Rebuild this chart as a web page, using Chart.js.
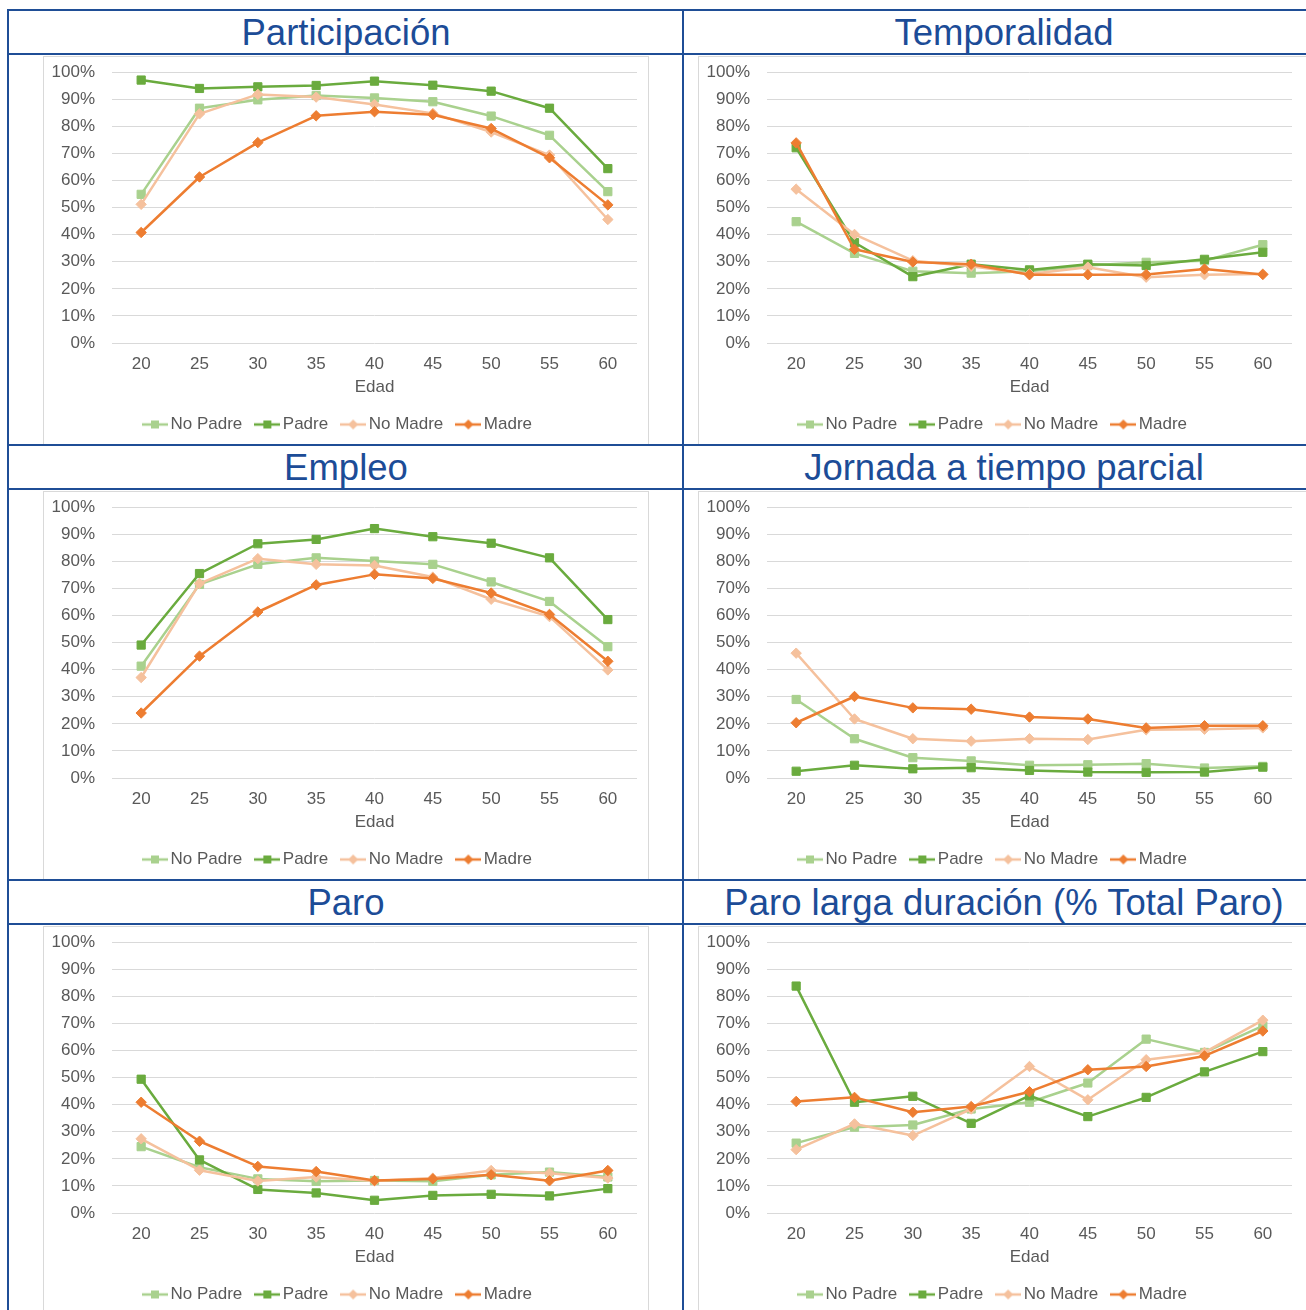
<!DOCTYPE html>
<html>
<head>
<meta charset="utf-8">
<script src="https://cdn.jsdelivr.net/npm/chart.js@4/dist/chart.umd.min.js"></script>
<style>
  html, body { margin: 0; padding: 0; background: #ffffff; }
  body { width: 1306px; height: 1310px; position: relative; overflow: hidden; font-family: "Liberation Sans", Arial, sans-serif; }
  .hline { position: absolute; left: 7px; width: 1310px; height: 2px; background: #1f4e96; }
  .vline { position: absolute; top: 9px; width: 2px; height: 1310px; background: #1f4e96; }
  .title { position: absolute; height: 43px; line-height: 43px; text-align: center; color: #1c4c97; font-size: 36.5px; white-space: nowrap; }
  .box { position: absolute; border: 1px solid #d9d9d9; box-sizing: border-box; background: #fff; }
  canvas { position: absolute; }
</style>
</head>
<body>
<script>
// ---------- DATA ----------
const edades = ['20', '25', '30', '35', '40', '45', '50', '55', '60'];
const serieNombres = ['No Padre', 'Padre', 'No Madre', 'Madre'];
const yTicks = [0, 10, 20, 30, 40, 50, 60, 70, 80, 90, 100];

const titulos = ['Participación', 'Temporalidad', 'Empleo', 'Jornada a tiempo parcial', 'Paro', 'Paro larga duración (% Total Paro)'];

// Participación
const partNoPadre  = [54.9, 86.7, 89.8, 91.4, 90.5, 89.1, 83.8, 76.7, 55.9];
const partPadre    = [97.1, 94.0, 94.6, 95.1, 96.7, 95.2, 93.0, 86.7, 64.4];
const partNoMadre  = [51.2, 84.6, 91.8, 90.8, 88.1, 84.8, 77.9, 69.4, 45.6];
const partMadre    = [40.8, 61.3, 74.0, 83.9, 85.4, 84.3, 79.2, 68.4, 51.0];

// Temporalidad
const tempNoPadre  = [44.8, 33.1, 26.5, 25.8, 26.5, 28.6, 29.8, 30.4, 36.3];
const tempPadre    = [72.1, 37.1, 24.5, 29.1, 27.0, 29.1, 28.6, 30.9, 33.5];
const tempNoMadre  = [56.8, 40.1, 30.4, 28.3, 25.5, 28.0, 24.3, 25.2, 25.5];
const tempMadre    = [73.9, 34.6, 29.9, 29.1, 25.2, 25.2, 25.3, 27.3, 25.3];

// Empleo
const empNoPadre   = [41.3, 71.5, 78.9, 81.3, 80.1, 78.9, 72.4, 65.2, 48.5];
const empPadre     = [49.1, 75.5, 86.5, 88.1, 92.1, 89.1, 86.7, 81.3, 58.5];
const empNoMadre   = [37.1, 71.8, 81.0, 78.9, 78.5, 74.2, 66.0, 59.6, 39.9];
const empMadre     = [24.0, 45.0, 61.3, 71.3, 75.2, 73.7, 68.3, 60.4, 43.1];

// Jornada a tiempo parcial
const parcNoPadre  = [29.0, 14.5, 7.5, 6.3, 4.7, 4.9, 5.3, 3.7, 4.3];
const parcPadre    = [2.5, 4.7, 3.4, 3.8, 2.8, 2.2, 2.1, 2.2, 4.0];
const parcNoMadre  = [46.1, 21.8, 14.5, 13.6, 14.5, 14.2, 17.8, 18.0, 18.5];
const parcMadre    = [20.4, 30.1, 25.9, 25.4, 22.5, 21.8, 18.5, 19.3, 19.3];

// Paro
const paroNoPadre  = [24.5, 16.9, 12.6, 11.7, 12.0, 11.7, 14.1, 15.1, 13.3];
const paroPadre    = [49.4, 19.6, 8.7, 7.4, 4.7, 6.5, 6.9, 6.3, 9.0];
const paroNoMadre  = [27.4, 15.8, 11.8, 13.3, 11.8, 12.9, 15.7, 14.7, 12.9];
const paroMadre    = [40.9, 26.5, 17.2, 15.3, 12.0, 12.6, 14.1, 11.9, 15.7];

// Paro larga duración
const pldNoPadre   = [25.8, 31.7, 32.5, 38.4, 40.9, 48.0, 64.2, 59.3, 69.1];
const pldPadre     = [83.8, 40.9, 43.1, 33.1, 43.3, 35.6, 42.7, 52.1, 59.6];
const pldNoMadre   = [23.4, 32.9, 28.6, 38.4, 54.1, 41.8, 56.6, 59.3, 71.2];
const pldMadre     = [41.2, 42.7, 37.2, 39.3, 44.8, 52.9, 54.1, 58.0, 67.2];

const paneles = [
  [partNoPadre, partPadre, partNoMadre, partMadre],
  [tempNoPadre, tempPadre, tempNoMadre, tempMadre],
  [empNoPadre, empPadre, empNoMadre, empMadre],
  [parcNoPadre, parcPadre, parcNoMadre, parcMadre],
  [paroNoPadre, paroPadre, paroNoMadre, paroMadre],
  [pldNoPadre, pldPadre, pldNoMadre, pldMadre]
];

// ---------- STYLE ----------
const colores = ['#a9d18e', '#6aab3e', '#f5c19d', '#ed7d31'];
const estilos = ['rect', 'rect', 'rectRot', 'rectRot'];
const radios  = [5.8, 5.8, 5.2, 5.2];
const FONT = '"Liberation Sans", Arial, sans-serif';
const GRIS = '#595959';

function legendIcon(color, style) {
  const c = document.createElement('canvas');
  c.width = 26; c.height = 12;
  const g = c.getContext('2d');
  g.strokeStyle = color; g.lineWidth = 2.5;
  g.beginPath(); g.moveTo(0, 6); g.lineTo(26, 6); g.stroke();
  g.fillStyle = color;
  if (style === 'rect') {
    g.fillRect(9, 2, 8, 8);
  } else {
    g.beginPath(); g.moveTo(13, 1); g.lineTo(18, 6); g.lineTo(13, 11); g.lineTo(8, 6); g.closePath(); g.fill();
  }
  return c;
}
const iconos = colores.map((c, i) => legendIcon(c, estilos[i]));

// ---------- LAYOUT ----------
const body = document.body;
function add(cls, css, text) {
  const d = document.createElement('div');
  d.className = cls;
  Object.assign(d.style, css);
  if (text) d.textContent = text;
  body.appendChild(d);
  return d;
}

const colX = [8, 684];
const colW = [676, 640];
const boxX = [43, 698];
const boxW = [606, 640];
const rowY = [10, 445, 880];

// chart boxes
for (let r = 0; r < 3; r++) {
  for (let c = 0; c < 2; c++) {
    add('box', { left: boxX[c] + 'px', top: (rowY[r] + 46) + 'px', width: boxW[c] + 'px', height: (r < 2 ? 389 : 420) + 'px' });
  }
}
// table lines
rowY.forEach(y => { add('hline', { top: (y - 1) + 'px' }); add('hline', { top: (y + 43) + 'px' }); });
add('vline', { left: '7px' });
add('vline', { left: '682px' });

// titles
for (let r = 0; r < 3; r++) {
  for (let c = 0; c < 2; c++) {
    add('title', { left: colX[c] + 'px', top: (rowY[r] + 1) + 'px', width: colW[c] + 'px' }, titulos[r * 2 + c]);
  }
}

// charts
for (let r = 0; r < 3; r++) {
  for (let c = 0; c < 2; c++) {
    const idx = r * 2 + c;
    const cv = document.createElement('canvas');
    cv.width = 605; cv.height = 398;
    cv.style.left = boxX[c] + 'px';
    cv.style.top = (rowY[r] + 35) + 'px';
    body.appendChild(cv);
    const datos = paneles[idx];
    new Chart(cv.getContext('2d'), {
      type: 'line',
      data: {
        labels: edades,
        datasets: serieNombres.map((n, i) => ({
          label: n,
          data: datos[i],
          borderColor: colores[i],
          backgroundColor: colores[i],
          borderWidth: 2.5,
          borderJoinStyle: 'round',
          pointStyle: estilos[i],
          pointRadius: radios[i],
          pointBorderWidth: 1,
          pointBackgroundColor: colores[i],
          pointBorderColor: colores[i],
          tension: 0,
          fill: false,
          order: 3 - i
        }))
      },
      options: {
        responsive: false,
        animation: false,
        layout: { padding: { top: 5, right: 11, left: 0, bottom: 0 } },
        plugins: {
          tooltip: { enabled: false },
          legend: {
            position: 'bottom',
            labels: {
              usePointStyle: true,
              pointStyleWidth: 14,
              padding: 18,
              color: GRIS,
              font: { family: FONT, size: 17 },
              sort: (a, b) => a.datasetIndex - b.datasetIndex,
              generateLabels: (chart) => {
                const items = Chart.defaults.plugins.legend.labels.generateLabels(chart);
                items.forEach(it => { it.pointStyle = iconos[it.datasetIndex]; });
                return items;
              }
            }
          }
        },
        scales: {
          x: {
            offset: true,
            grid: { display: false },
            border: { display: false },
            ticks: { padding: 3, color: GRIS, font: { family: FONT, size: 17 }, maxRotation: 0 },
            title: { display: true, text: 'Edad', color: GRIS, padding: { top: 0, bottom: 0 }, font: { family: FONT, size: 17 } },
            afterFit: (s) => { s.height = 55; }
          },
          y: {
            min: yTicks[0],
            max: yTicks[yTicks.length - 1],
            afterBuildTicks: (s) => { s.ticks = yTicks.map(v => ({ value: v })); },
            ticks: { padding: 17, color: GRIS, font: { family: FONT, size: 17 }, callback: (v) => v + '%' },
            grid: { color: '#d9d9d9', lineWidth: 1, drawTicks: false },
            border: { display: false },
            afterFit: (s) => { s.width = 69; }
          }
        }
      }
    });
  }
}
</script>
</body>
</html>
